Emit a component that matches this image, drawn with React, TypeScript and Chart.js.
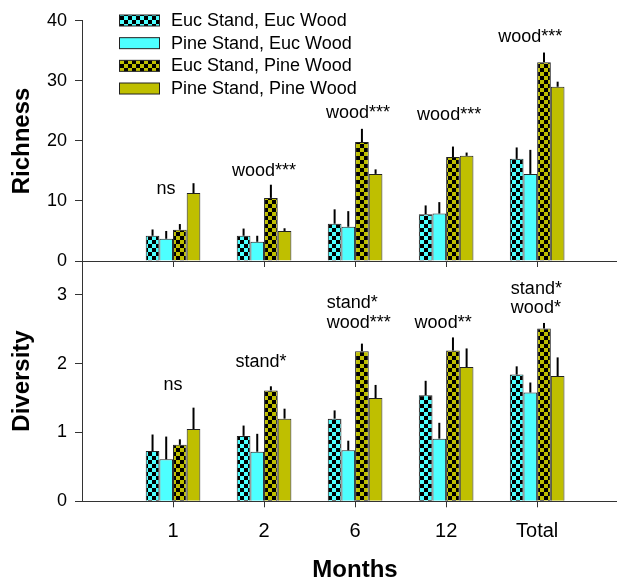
import React, { useEffect, useRef } from 'react';
import { Chart, registerables } from 'chart.js';

Chart.register(...registerables);

const FONT = "'Liberation Sans', Arial, sans-serif";
Chart.defaults.font.family = FONT;

// ---------- data ----------
const categories = ['1', '2', '6', '12', 'Total'];
const seriesNames = [
  'Euc Stand, Euc Wood',
  'Pine Stand, Euc Wood',
  'Euc Stand, Pine Wood',
  'Pine Stand, Pine Wood',
];

const richEucEuc = [4.2, 4.2, 6.2, 7.8, 17.0];
const richPineEuc = [3.7, 3.2, 5.7, 7.9, 14.5];
const richEucPine = [5.2, 10.5, 19.8, 17.3, 33.1];
const richPinePine = [11.3, 5.0, 14.5, 17.5, 29.0];
const richErrEucEuc = [1.05, 1.2, 2.4, 1.45, 1.9];
const richErrPineEuc = [1.3, 1.0, 2.6, 1.9, 4.0];
const richErrEucPine = [0.95, 2.2, 2.2, 1.75, 1.6];
const richErrPinePine = [1.65, 0.45, 0.75, 0.55, 0.85];

const divEucEuc = [0.73, 0.95, 1.2, 1.54, 1.84];
const divPineEuc = [0.61, 0.72, 0.74, 0.91, 1.58];
const divEucPine = [0.82, 1.61, 2.18, 2.19, 2.51];
const divPinePine = [1.05, 1.2, 1.5, 1.95, 1.82];
const divErrEucEuc = [0.24, 0.15, 0.12, 0.21, 0.12];
const divErrPineEuc = [0.33, 0.26, 0.14, 0.23, 0.145];
const divErrEucPine = [0.08, 0.06, 0.11, 0.19, 0.08];
const divErrPinePine = [0.31, 0.145, 0.19, 0.27, 0.27];

const richTicks = [0, 10, 20, 30, 40];
const divTicks = [0, 1, 2, 3];

const richNotes = [['ns'], ['wood***'], ['wood***'], ['wood***'], ['wood***']];
const richNoteAt = [11.15, 14.2, 23.8, 23.45, 36.4];
const divNotes = [['ns'], ['stand*'], ['stand*', 'wood***'], ['wood**'], ['stand*', 'wood*']];
const divNoteAt = [1.616, 1.945, 2.52, 2.51, 2.73];

// ---------- styles ----------
const CYAN = '#4dffff';
const OLIVE = '#bfbf00';
const AXIS = '#333333';
const richNoteDx = [-7, 0, 3, 3, -7];
const divNoteDx = [0, -3, -28.3, -3, -26.3];

function checker(color: string): CanvasPattern {
  const c = document.createElement('canvas');
  c.width = 8;
  c.height = 8;
  const g = c.getContext('2d')!;
  g.fillStyle = color;
  g.fillRect(0, 0, 8, 8);
  g.fillStyle = '#000';
  g.fillRect(0, 0, 4, 4);
  g.fillRect(4, 4, 4, 4);
  return g.createPattern(c, 'repeat')!;
}

function fills(): any[] {
  return [checker(CYAN), CYAN, checker(OLIVE), OLIVE];
}

function makeDatasets(values: number[][], errors: number[][]) {
  const f = fills();
  return values.map((vals, k) => ({
    label: seriesNames[k],
    data: vals.map((v, i) => ({ x: i + 1, y: v })),
    errors: errors[k],
    backgroundColor: f[k],
    borderColor: '#222',
    borderWidth: 1,
    categoryPercentage: 0.6,
    barPercentage: 1.0,
  }));
}

const errorBarPlugin = {
  id: 'errorBars',
  afterDatasetsDraw(chart: any) {
    const ctx = chart.ctx;
    const y = chart.scales.y;
    ctx.save();
    ctx.strokeStyle = '#000';
    ctx.lineWidth = 2;
    chart.data.datasets.forEach((ds: any, di: number) => {
      const meta = chart.getDatasetMeta(di);
      meta.data.forEach((bar: any, i: number) => {
        const v = ds.data[i].y;
        const top = y.getPixelForValue(v + ds.errors[i]);
        ctx.beginPath();
        ctx.moveTo(bar.x, bar.y);
        ctx.lineTo(bar.x, top);
        ctx.stroke();
      });
    });
    ctx.restore();
  },
};

function notesPlugin(notes: string[][], at: number[], dx: number[]) {
  return {
    id: 'notes',
    afterDraw(chart: any) {
      const ctx = chart.ctx;
      const xs = chart.scales.x;
      const ys = chart.scales.y;
      ctx.save();
      ctx.fillStyle = '#000';
      ctx.font = `18px ${FONT}`;
      ctx.textBaseline = 'alphabetic';
      notes.forEach((lines, i) => {
        const cx = xs.getPixelForValue(i + 1) + dx[i];
        const base = ys.getPixelForValue(at[i]);
        const multi = lines.length > 1;
        ctx.textAlign = multi ? 'left' : 'center';
        lines.forEach((t, j) => {
          ctx.fillText(t, cx, base - (lines.length - 1 - j) * 19.6);
        });
      });
      ctx.restore();
    },
  };
}

const legendPlugin = {
  id: 'customLegend',
  afterDraw(chart: any) {
    const ctx = chart.ctx;
    ctx.save();
    chart.data.datasets.forEach((ds: any, k: number) => {
      const cy = 20.5 + k * 22.67;
      ctx.fillStyle = ds.backgroundColor;
      ctx.fillRect(119.5, cy - 5.5, 40, 11);
      ctx.strokeStyle = '#222';
      ctx.lineWidth = 1;
      ctx.strokeRect(119.5, cy - 5.5, 40, 11);
      ctx.fillStyle = '#000';
      ctx.font = `18px ${FONT}`;
      ctx.textAlign = 'left';
      ctx.textBaseline = 'middle';
      ctx.fillText(ds.label, 171, cy + 0.5);
    });
    ctx.restore();
  },
};

function titlePlugin(items: { text: string; x: number; y: number; rot: boolean }[]) {
  return {
    id: 'titles',
    afterDraw(chart: any) {
      const ctx = chart.ctx;
      ctx.save();
      ctx.fillStyle = '#000';
      ctx.font = `bold 24px ${FONT}`;
      ctx.textAlign = 'center';
      items.forEach((it) => {
        ctx.save();
        ctx.translate(it.x, it.y);
        if (it.rot) {
          ctx.rotate(-Math.PI / 2);
          ctx.textBaseline = 'middle';
        } else {
          ctx.textBaseline = 'alphabetic';
        }
        ctx.fillText(it.text, 0, 0);
        ctx.restore();
      });
      ctx.restore();
    },
  };
}

function baseOptions(opts: {
  padTop: number;
  padBottom: number;
  xHeight: number;
  showX: boolean;
  yMax: number;
  yTicks: number[];
}): any {
  return {
    responsive: false,
    animation: false,
    devicePixelRatio: 1,
    layout: { padding: { top: opts.padTop, bottom: opts.padBottom, left: 0, right: 0 } },
    plugins: { legend: { display: false }, tooltip: { enabled: false } },
    scales: {
      x: {
        type: 'linear',
        offset: false,
        min: 0,
        max: 5.877,
        afterBuildTicks: (s: any) => {
          s.ticks = categories.map((_, i) => ({ value: i + 1 }));
        },
        afterFit: (s: any) => {
          s.height = opts.xHeight;
        },
        ticks: {
          display: opts.showX,
          autoSkip: false,
          maxRotation: 0,
          padding: 12,
          color: '#000',
          font: { size: 20, family: FONT },
          callback: (v: number) => categories[Math.round(v) - 1] ?? '',
        },
        grid: { offset: false, drawOnChartArea: false, tickLength: 6, color: AXIS, lineWidth: 1 },
        border: { color: AXIS, width: 1 },
      },
      y: {
        min: 0,
        max: opts.yMax,
        afterBuildTicks: (s: any) => {
          s.ticks = opts.yTicks.map((v) => ({ value: v }));
        },
        afterFit: (s: any) => {
          s.width = 82;
        },
        ticks: {
          padding: 8,
          color: '#000',
          font: { size: 18, family: FONT },
        },
        grid: { drawOnChartArea: false, tickLength: 7, color: AXIS, lineWidth: 1 },
        border: { color: AXIS, width: 1 },
      },
    },
  };
}

export default function App() {
  const topRef = useRef<HTMLCanvasElement>(null);
  const botRef = useRef<HTMLCanvasElement>(null);

  useEffect(() => {
    const top = new Chart(topRef.current!, {
      type: 'bar',
      data: {
        datasets: makeDatasets(
          [richEucEuc, richPineEuc, richEucPine, richPinePine],
          [richErrEucEuc, richErrPineEuc, richErrEucPine, richErrPinePine]
        ) as any,
      },
      options: baseOptions({
        padTop: 20.7,
        padBottom: 300,
        xHeight: 20,
        showX: false,
        yMax: 40,
        yTicks: richTicks,
      }),
      plugins: [
        errorBarPlugin,
        notesPlugin(richNotes, richNoteAt, richNoteDx),
        legendPlugin,
        titlePlugin([{ text: 'Richness', x: 22, y: 141, rot: true }]),
      ],
    } as any);

    const bot = new Chart(botRef.current!, {
      type: 'bar',
      data: {
        datasets: makeDatasets(
          [divEucEuc, divPineEuc, divEucPine, divPinePine],
          [divErrEucEuc, divErrPineEuc, divErrEucPine, divErrPinePine]
        ) as any,
      },
      options: baseOptions({
        padTop: 260.3,
        padBottom: 0,
        xHeight: 79.7,
        showX: true,
        yMax: 3.5,
        yTicks: divTicks,
      }),
      plugins: [
        errorBarPlugin,
        notesPlugin(divNotes, divNoteAt, divNoteDx),
        titlePlugin([
          { text: 'Diversity', x: 22, y: 381, rot: true },
          { text: 'Months', x: 355, y: 577.3, rot: false },
        ]),
      ],
    } as any);

    return () => {
      top.destroy();
      bot.destroy();
    };
  }, []);

  const cs: React.CSSProperties = { position: 'absolute', left: 0, top: 0, width: 617, height: 581 };
  return (
    <div style={{ position: 'fixed', left: 0, top: 0, width: 617, height: 581, background: '#fff' }}>
      <canvas ref={topRef} width={617} height={581} style={cs} />
      <canvas ref={botRef} width={617} height={581} style={cs} />
    </div>
  );
}
